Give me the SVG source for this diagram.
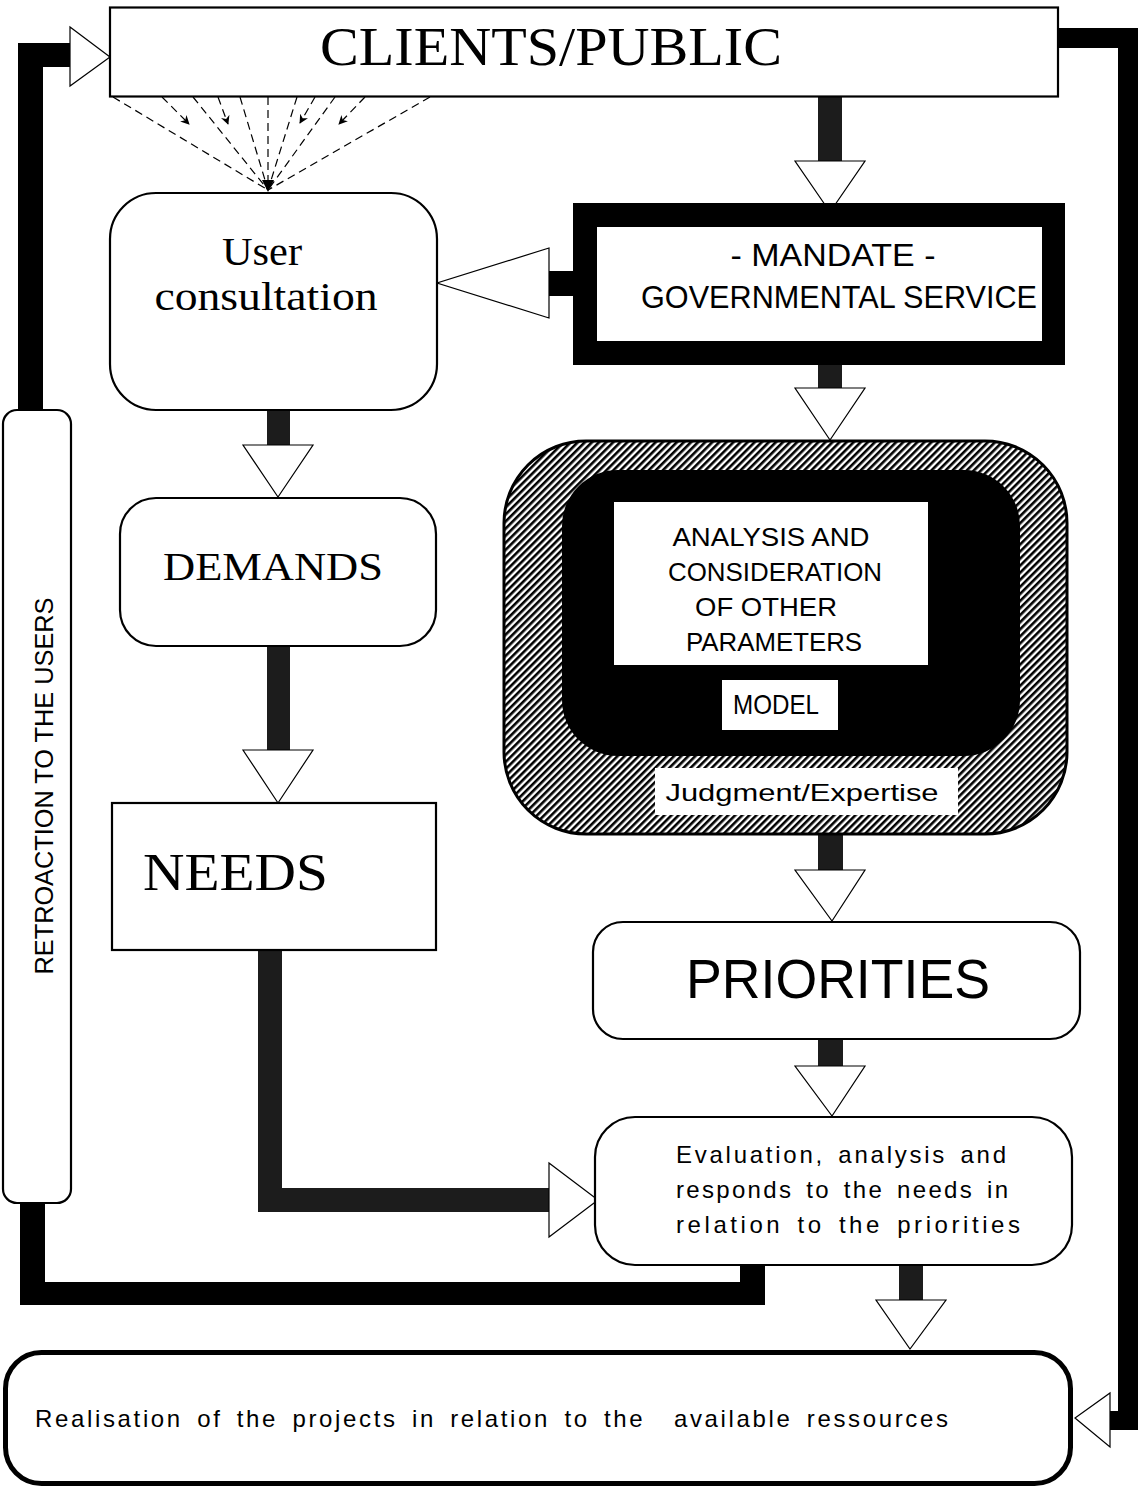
<svg xmlns="http://www.w3.org/2000/svg" width="1141" height="1490" viewBox="0 0 1141 1490">
<style>
.box{fill:#fff;stroke:#000;stroke-width:2.2}
.serif{font-family:"Liberation Serif","Times New Roman",serif;fill:#000}
.sans{font-family:"Liberation Sans",Arial,sans-serif;fill:#000}
.bar{fill:#000}
.sbar{fill:#1c1c1c}
.head{fill:#fff;stroke:#000;stroke-width:1.2;stroke-linejoin:miter}
.dash{stroke:#000;stroke-width:1.2;stroke-dasharray:8 5;fill:none}
</style>
<defs>
<pattern id="hatch" patternUnits="userSpaceOnUse" width="5" height="5" patternTransform="rotate(45)">
<rect width="5" height="5" fill="#fff"/>
<rect x="0" y="0" width="2.6" height="5" fill="#000"/>
</pattern>
<marker id="barb" viewBox="0 0 10 10" refX="9" refY="5" markerWidth="9" markerHeight="9" markerUnits="userSpaceOnUse" orient="auto">
<path d="M0,0 L10,5 L0,10 L3,5 Z" fill="#000"/>
</marker>
</defs>

<g id="connectors">
<!-- feedback loop left -->
<rect class="bar" x="18" y="43" width="25" height="368"/>
<rect class="bar" x="18" y="43" width="53" height="24"/>
<polygon class="head" points="70,27 70,86 110,57"/>
<rect class="bar" x="20" y="1202" width="25" height="103"/>
<rect class="bar" x="20" y="1282" width="745" height="23"/>
<rect class="bar" x="740" y="1264" width="25" height="41"/>
<!-- right loop -->
<rect class="bar" x="1057" y="28" width="81" height="20"/>
<rect class="bar" x="1118" y="28" width="20" height="1402"/>
<rect class="bar" x="1109" y="1411" width="29" height="19"/>
<polygon class="head" points="1110,1393 1110,1447 1075,1418"/>
<!-- clients to mandate -->
<rect class="sbar" x="818" y="97" width="24" height="65"/>
<polygon class="head" points="795,161 865,161 830,212"/>
<!-- mandate to user consultation -->
<rect class="bar" x="548" y="271" width="26" height="25"/>
<polygon class="head" points="549,248 549,318 437,283"/>
<!-- user consultation to demands -->
<rect class="sbar" x="267" y="409" width="23" height="37"/>
<polygon class="head" points="243,445 313,445 278,497"/>
<!-- demands to needs -->
<rect class="sbar" x="267" y="645" width="23" height="106"/>
<polygon class="head" points="243,750 313,750 278,803"/>
<!-- needs to evaluation -->
<rect class="sbar" x="258" y="949" width="24" height="263"/>
<rect class="sbar" x="258" y="1188" width="292" height="24"/>
<polygon class="head" points="549,1163 549,1237 598,1200"/>
<!-- mandate to analysis -->
<rect class="sbar" x="818" y="364" width="24" height="25"/>
<polygon class="head" points="795,388 865,388 830,440"/>
<!-- analysis to priorities -->
<rect class="sbar" x="818" y="834" width="25" height="37"/>
<polygon class="head" points="795,870 865,870 832,921"/>
<!-- priorities to evaluation -->
<rect class="sbar" x="818" y="1038" width="25" height="29"/>
<polygon class="head" points="795,1066 865,1066 832,1116"/>
<!-- evaluation to realisation -->
<rect class="sbar" x="899" y="1264" width="24" height="37"/>
<polygon class="head" points="876,1300 946,1300 910,1349"/>
<!-- dashed consultation lines -->
<line class="dash" x1="113" y1="97" x2="268" y2="190"/>
<line class="dash" x1="193" y1="97" x2="268" y2="190"/>
<line class="dash" x1="240" y1="97" x2="268" y2="190"/>
<line class="dash" x1="268" y1="97" x2="268" y2="190"/>
<line class="dash" x1="297" y1="97" x2="268" y2="190"/>
<line class="dash" x1="335" y1="97" x2="268" y2="190"/>
<line class="dash" x1="430" y1="97" x2="268" y2="190"/>
<line class="dash" x1="162" y1="97" x2="189" y2="124" marker-end="url(#barb)"/>
<line class="dash" x1="218" y1="97" x2="228" y2="124" marker-end="url(#barb)"/>
<line class="dash" x1="315" y1="97" x2="300" y2="123" marker-end="url(#barb)"/>
<line class="dash" x1="365" y1="97" x2="339" y2="124" marker-end="url(#barb)"/>
<polygon points="262,180 274,180 268,192" fill="#000"/>
</g>

<g id="clients">
<rect class="box" x="110" y="7.5" width="948" height="89"/>
<text class="serif" x="551" y="65" font-size="55" text-anchor="middle" textLength="462" lengthAdjust="spacingAndGlyphs">CLIENTS/PUBLIC</text>
</g>

<g id="retroaction">
<rect class="box" x="3" y="410" width="68" height="793" rx="14" stroke-width="1.5"/>
<text class="sans" transform="translate(53,786) rotate(-90)" x="0" y="0" font-size="26" text-anchor="middle" textLength="377" lengthAdjust="spacingAndGlyphs">RETROACTION TO THE USERS</text>
</g>

<g id="user-consultation">
<rect class="box" x="110" y="193" width="327" height="217" rx="46"/>
<text class="serif" x="262" y="265" font-size="40" text-anchor="middle" textLength="80" lengthAdjust="spacingAndGlyphs">User</text>
<text class="serif" x="266" y="310" font-size="40" text-anchor="middle" textLength="223" lengthAdjust="spacingAndGlyphs">consultation</text>
</g>

<g id="mandate">
<rect x="573" y="203" width="492" height="162" fill="#000"/>
<rect x="597" y="227" width="445" height="114" fill="#fff"/>
<text class="sans" x="833" y="266" font-size="32" text-anchor="middle" textLength="205" lengthAdjust="spacingAndGlyphs">- MANDATE -</text>
<text class="sans" x="839" y="308" font-size="32" text-anchor="middle" textLength="396" lengthAdjust="spacingAndGlyphs">GOVERNMENTAL SERVICE</text>
</g>

<g id="demands">
<rect class="box" x="120" y="498" width="316" height="148" rx="36"/>
<text class="serif" x="273" y="580" font-size="41" text-anchor="middle" textLength="220" lengthAdjust="spacingAndGlyphs">DEMANDS</text>
</g>

<g id="needs">
<rect class="box" x="112" y="803" width="324" height="147"/>
<text class="serif" x="143" y="890" font-size="53" textLength="185" lengthAdjust="spacingAndGlyphs">NEEDS</text>
</g>

<g id="analysis">
<rect x="504" y="441" width="563" height="393" rx="82" fill="url(#hatch)" stroke="#000" stroke-width="3"/>
<rect x="562" y="470" width="458" height="286" rx="56" fill="#000"/>
<rect x="614" y="502" width="314" height="163" fill="#fff"/>
<text class="sans" x="771" y="546" font-size="26" text-anchor="middle" textLength="197" lengthAdjust="spacingAndGlyphs">ANALYSIS AND</text>
<text class="sans" x="775" y="581" font-size="26" text-anchor="middle" textLength="214" lengthAdjust="spacingAndGlyphs">CONSIDERATION</text>
<text class="sans" x="766" y="616" font-size="26" text-anchor="middle" textLength="142" lengthAdjust="spacingAndGlyphs">OF OTHER</text>
<text class="sans" x="774" y="651" font-size="26" text-anchor="middle" textLength="176" lengthAdjust="spacingAndGlyphs">PARAMETERS</text>
<rect x="722" y="680" width="116" height="50" fill="#fff"/>
<text class="sans" x="776" y="714" font-size="28" text-anchor="middle" textLength="86" lengthAdjust="spacingAndGlyphs">MODEL</text>
<rect x="655" y="768" width="303" height="47" fill="#fff"/>
<text class="sans" x="802" y="801" font-size="24" text-anchor="middle" textLength="273" lengthAdjust="spacingAndGlyphs">Judgment/Expertise</text>
</g>

<g id="priorities">
<rect class="box" x="593" y="922" width="487" height="117" rx="30"/>
<text class="sans" x="838" y="998" font-size="55" text-anchor="middle" textLength="304" lengthAdjust="spacingAndGlyphs">PRIORITIES</text>
</g>

<g id="evaluation">
<rect class="box" x="595" y="1117" width="477" height="148" rx="40"/>
<text class="sans" x="676" y="1163" font-size="24" word-spacing="4" textLength="330" lengthAdjust="spacing">Evaluation, analysis and</text>
<text class="sans" x="676" y="1198" font-size="24" word-spacing="4" textLength="332" lengthAdjust="spacing">responds to the needs in</text>
<text class="sans" x="676" y="1233" font-size="24" word-spacing="4" textLength="344" lengthAdjust="spacing">relation to the priorities</text>
</g>

<g id="realisation">
<rect x="5.5" y="1352.5" width="1065" height="131" rx="36" fill="#fff" stroke="#000" stroke-width="5"/>
<text class="sans" x="35" y="1427" font-size="24" word-spacing="5" textLength="913" lengthAdjust="spacing" xml:space="preserve">Realisation of the projects in relation to the  available ressources</text>
</g>
</svg>
